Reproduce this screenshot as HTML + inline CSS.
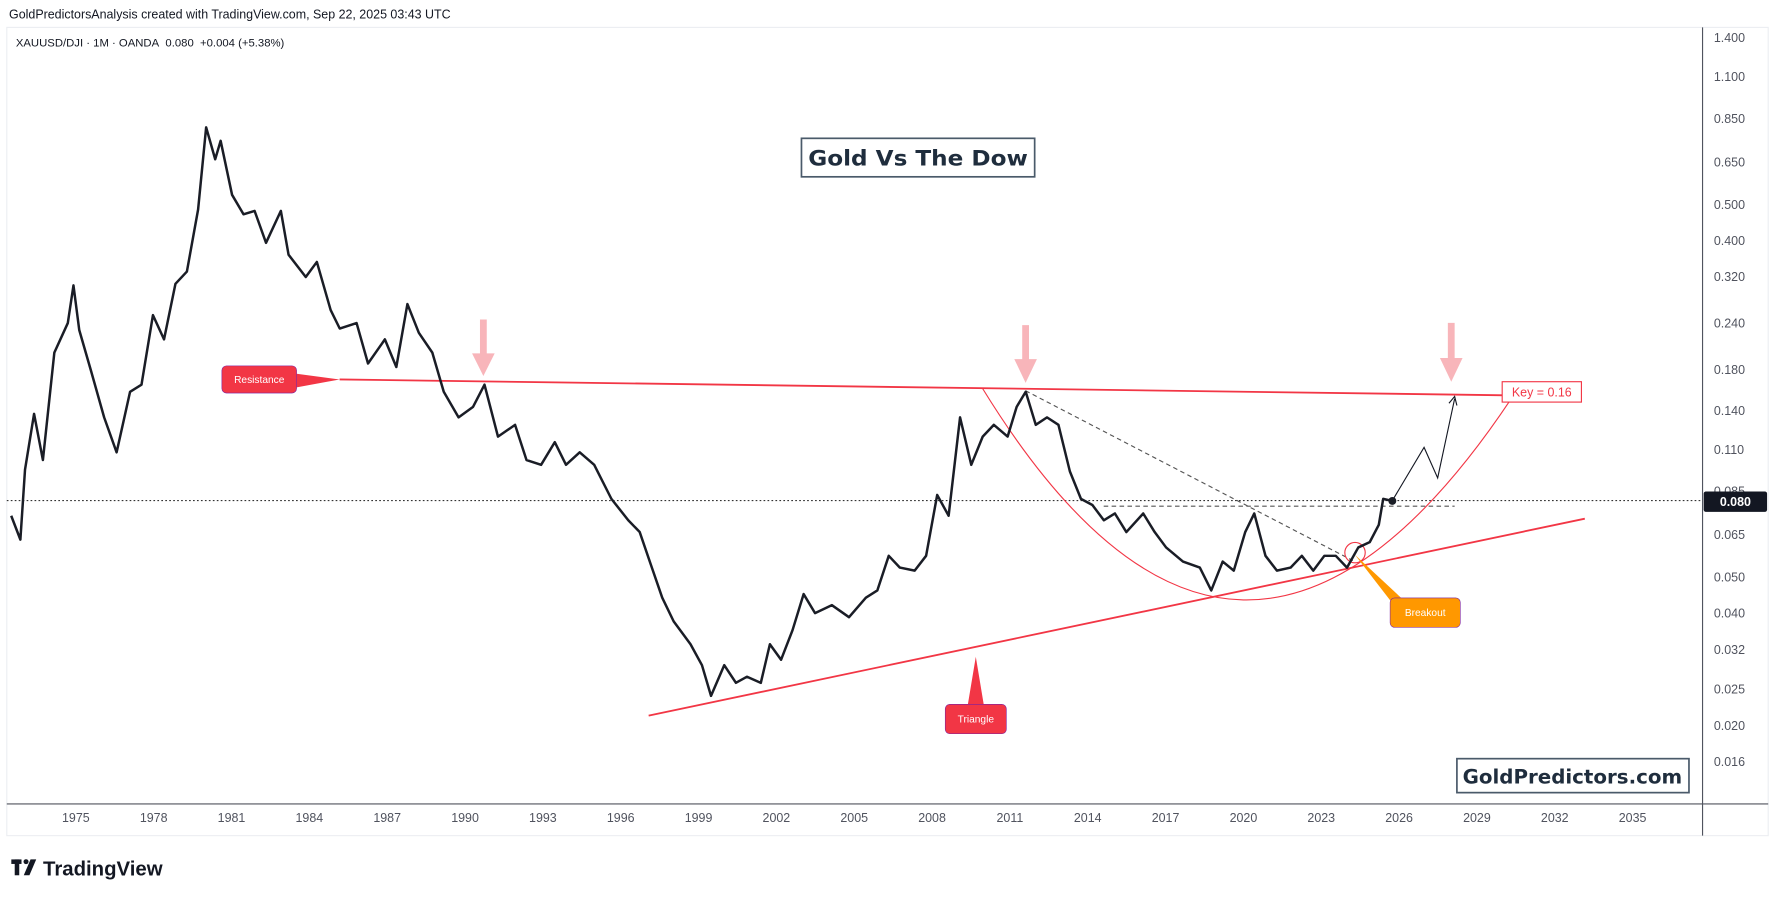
<!DOCTYPE html>
<html><head><meta charset="utf-8"><style>
html,body{margin:0;padding:0;background:#fff;}
svg{display:block;font-family:"Liberation Sans",sans-serif;}
</style></head><body>
<svg id="chart" width="1775" height="897" viewBox="0 0 1568 792" xmlns="http://www.w3.org/2000/svg">
<rect x="0" y="0" width="1568" height="792" fill="#fff"/>
<text x="8" y="16" font-size="11" fill="#131722">GoldPredictorsAnalysis created with TradingView.com, Sep 22, 2025 03:43 UTC</text>
<rect x="6" y="24" width="1556" height="714" fill="#fff" stroke="#eceef2"/>
<line x1="1504" y1="24" x2="1504" y2="738" stroke="#50535e"/>
<line x1="6" y1="710" x2="1562" y2="710" stroke="#50535e"/>
<text x="14" y="41" font-size="10" fill="#131722">XAUUSD/DJI · 1M · OANDA&#160; 0.080&#160; +0.004 (+5.38%)</text>
<g id="yticks"></g><g id="xticks"></g>
<line x1="6" y1="442" x2="1504" y2="442" stroke="#333" stroke-dasharray="1.5,2"/>
<line x1="300" y1="335" x2="1330" y2="349" stroke="#f23645" stroke-width="1.6"/>
<line x1="573" y1="632" x2="1400" y2="458" stroke="#f23645" stroke-width="1.6"/>
<path d="M868,343 Q1095,712 1335,352" fill="none" stroke="#f23645" stroke-width="1"/>
<line x1="906" y1="345" x2="1195" y2="495" stroke="#555" stroke-dasharray="4,3"/>
<line x1="975" y1="447" x2="1285" y2="447" stroke="#555" stroke-dasharray="4,3"/>
<polyline points="1230,442 1258,395 1270,422 1285,352" fill="none" stroke="#131722" stroke-width="1"/>
<path d="M1280,356 L1285,350 L1287,358" fill="none" stroke="#131722" stroke-width="1"/>
<circle cx="1197" cy="488" r="9" fill="none" stroke="#f23645" stroke-width="1"/>
<g fill="#f7a8ae" opacity="0.85">
<path d="M424,282 L430,282 L430,312 L437,312 L427,332 L417,312 L424,312Z"/>
<path d="M903,287 L909,287 L909,317 L916,317 L906,338 L896,317 L903,317Z"/>
<path d="M1279,285 L1285,285 L1285,316 L1292,316 L1282,337 L1272,316 L1279,316Z"/>
</g>
<g>
<path d="M262,330 L300,335 L262,342Z" fill="#f23645"/>
<rect x="196" y="323" width="66" height="24" rx="4" fill="#f23645" stroke="#7b1fa2" stroke-width="0.5"/>
<text x="229" y="338" font-size="9" fill="#fff" text-anchor="middle">Resistance</text>
</g>
<g>
<path d="M855,622 L862,580 L869,622Z" fill="#f23645"/>
<rect x="835" y="622" width="54" height="26" rx="4" fill="#f23645" stroke="#7b1fa2" stroke-width="0.5"/>
<text x="862" y="638" font-size="9" fill="#fff" text-anchor="middle">Triangle</text>
</g>
<g>
<path d="M1228,530 L1197,490 L1240,530Z" fill="#ff9800"/>
<rect x="1228" y="528" width="62" height="26" rx="4" fill="#ff9800" stroke="#7b1fa2" stroke-width="0.5"/>
<text x="1259" y="544" font-size="9" fill="#fff" text-anchor="middle">Breakout</text>
</g>
<g>
<rect x="1327" y="337" width="70" height="18" fill="#fff" stroke="#f23645"/>
<text x="1362" y="350" font-size="11" fill="#f23645" text-anchor="middle">Key = 0.16</text>
</g>
<g>
<rect x="708" y="122" width="206" height="34" fill="#fff" stroke="#4a5a6a" stroke-width="1.5"/>
<text x="811" y="146" font-size="19" font-weight="bold" fill="#1f2d3d" text-anchor="middle" font-family="DejaVu Sans, sans-serif" textLength="194" lengthAdjust="spacingAndGlyphs">Gold Vs The Dow</text>
</g>
<g>
<rect x="1287" y="670" width="205" height="30" fill="#fff" stroke="#4a5a6a" stroke-width="1.5"/>
<text x="1389" y="692" font-size="17" font-weight="bold" fill="#1f2d3d" text-anchor="middle" font-family="DejaVu Sans, sans-serif" textLength="194" lengthAdjust="spacingAndGlyphs">GoldPredictors.com</text>
</g>
<path id="series" fill="none" stroke="#1a1d26" stroke-width="2.2" stroke-linejoin="round"/>
<circle id="lastdot" r="3.5" fill="#1a1d26"/>
<g>
<rect x="1505" y="434" width="56" height="18" rx="2" fill="#131722"/>
<text x="1533" y="447" font-size="11" font-weight="bold" fill="#fff" text-anchor="middle">0.080</text>
</g>
<g>
<rect x="10" y="759" width="9" height="4" fill="#131722"/><rect x="13" y="759" width="4" height="14" fill="#131722"/>
<circle cx="23" cy="761" r="2.2" fill="#131722"/><path d="M27,759 L32,759 L26,773 L21,773Z" fill="#131722"/>
<text x="38" y="773" font-size="18" font-weight="bold" fill="#131722">TradingView</text>
</g>
</svg>
<script>
const years=[1972.51,1972.86,1973.04,1973.39,1973.73,1974.17,1974.69,1974.91,1975.13,1975.57,1976.09,1976.57,1977.09,1977.53,1977.97,1978.40,1978.84,1979.28,1979.71,1980.02,1980.37,1980.58,1981.02,1981.46,1981.89,1982.33,1982.90,1983.20,1983.86,1984.29,1984.82,1985.17,1985.82,1986.26,1986.91,1987.35,1987.78,1988.22,1988.74,1989.18,1989.75,1990.31,1990.75,1991.27,1991.93,1992.37,1992.93,1993.46,1993.89,1994.42,1994.98,1995.64,1996.29,1996.73,1997.16,1997.60,1998.04,1998.69,1999.13,1999.48,1999.99,2000.44,2000.87,2001.40,2001.75,2002.18,2002.62,2003.05,2003.49,2004.14,2004.80,2005.45,2005.89,2006.33,2006.76,2007.33,2007.77,2008.20,2008.64,2009.08,2009.51,2009.95,2010.38,2010.91,2011.26,2011.61,2012.00,2012.43,2012.87,2013.31,2013.74,2014.18,2014.62,2015.05,2015.49,2016.14,2016.58,2017.02,2017.67,2018.32,2018.76,2019.20,2019.63,2020.07,2020.42,2020.85,2021.29,2021.82,2022.25,2022.69,2023.12,2023.56,2023.99,2024.43,2024.87,2025.22,2025.39,2025.74];
const ratios=[0.073,0.063,0.097,0.137,0.103,0.2,0.24,0.303,0.23,0.18,0.134,0.108,0.157,0.164,0.252,0.217,0.306,0.33,0.484,0.804,0.66,0.74,0.53,0.47,0.48,0.394,0.48,0.366,0.319,0.35,0.26,0.232,0.24,0.187,0.217,0.183,0.27,0.226,0.2,0.157,0.134,0.143,0.164,0.119,0.128,0.103,0.1,0.115,0.1,0.108,0.1,0.081,0.071,0.066,0.054,0.044,0.038,0.033,0.029,0.024,0.029,0.026,0.027,0.026,0.033,0.030,0.036,0.045,0.040,0.042,0.039,0.044,0.046,0.057,0.053,0.052,0.057,0.083,0.073,0.134,0.100,0.119,0.128,0.119,0.143,0.157,0.128,0.134,0.128,0.096,0.081,0.078,0.071,0.074,0.066,0.074,0.066,0.06,0.055,0.053,0.046,0.055,0.052,0.066,0.074,0.057,0.052,0.053,0.057,0.052,0.057,0.057,0.053,0.06,0.062,0.069,0.081,0.08];
const yTickLabels=["1.400","1.100","0.850","0.650","0.500","0.400","0.320","0.240","0.180","0.140","0.110","0.085","0.065","0.050","0.040","0.032","0.025","0.020","0.016"];
const xTickLabels=["1975","1978","1981","1984","1987","1990","1993","1996","1999","2002","2005","2008","2011","2014","2017","2020","2023","2026","2029","2032","2035"];
function X(yr){return 67+(yr-1975)*22.92;}
function Y(v){return 33+143*Math.log(1.4/v);}
const NS="http://www.w3.org/2000/svg";
const yg=document.getElementById('yticks');
yTickLabels.forEach(l=>{const t=document.createElementNS(NS,'text');


t.setAttribute('x',1514);t.setAttribute('y',Y(parseFloat(l))+4);t.setAttribute('font-size','11');t.setAttribute('fill','#50535e');t.textContent=l;yg.appendChild(t);});
const xg=document.getElementById('xticks');
xTickLabels.forEach(l=>{const t=document.createElementNS(NS,'text');


t.setAttribute('x',X(+l));t.setAttribute('y',726);t.setAttribute('font-size','11');t.setAttribute('fill','#50535e');t.setAttribute('text-anchor','middle');t.textContent=l;xg.appendChild(t);});
let d='';years.forEach((yr,i)=>{d+=(i?'L':'M')+X(yr).toFixed(1)+','+Y(ratios[i]).toFixed(1);});
document.getElementById('series').setAttribute('d',d);
const n=years.length-1,dot=document.getElementById('lastdot');
dot.setAttribute('cx',X(years[n]));dot.setAttribute('cy',Y(ratios[n]));
</script>
</body></html>
